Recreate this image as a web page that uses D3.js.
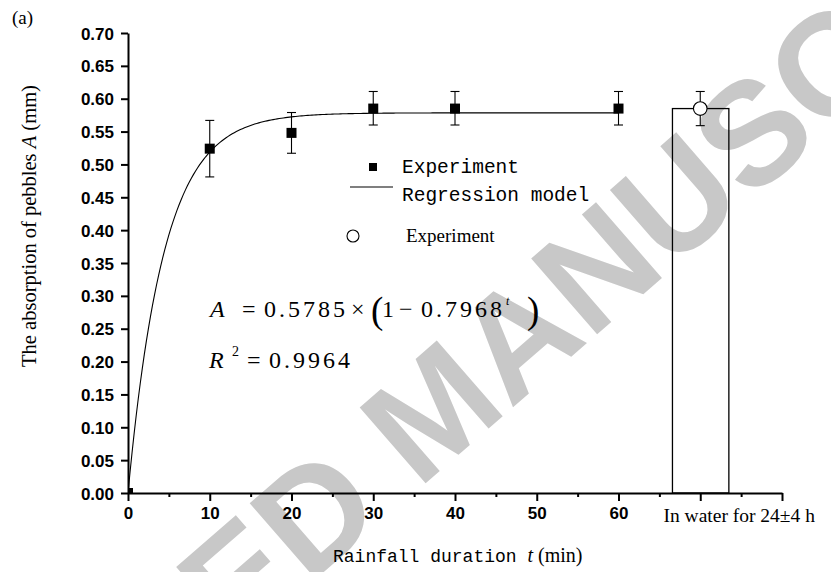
<!DOCTYPE html>
<html>
<head>
<meta charset="utf-8">
<script src="https://cdn.jsdelivr.net/npm/d3@7"></script>
<style>
  body { margin: 0; background: #fff; }
  svg { display: block; }
</style>
</head>
<body>
<script>
// data
const tExp = [0, 10, 20, 30, 40, 60];
const aExp = [0, 0.524, 0.548, 0.585, 0.585, 0.585];
const errLow = [null, 0.481, 0.517, 0.560, 0.560, 0.560];
const errHigh = [null, 0.567, 0.579, 0.611, 0.611, 0.611];

// soaked in water for 24±4 h
const waterT = [70];
const waterA = [0.585];
const waterLow = [0.559];
const waterHigh = [0.611];

// regression model A = a * (1 - b^t)
const modelA = 0.5785;
const modelB = 0.7968;
const modelT = d3.range(0, 60.25, 0.25);

const xTicks = [0, 10, 20, 30, 40, 50, 60, 70, 80];
const xMinor = [5, 15, 25, 35, 45, 55, 65, 75];
const yTicks = d3.range(0, 0.7001, 0.05);

const width = 831, height = 572;

const svg = d3.select("body").append("svg")
  .attr("width", width)
  .attr("height", height);

const x = d3.scaleLinear().domain([0, 80]).range([128, 782]);
const y = d3.scaleLinear().domain([0, 0.7]).range([493, 33]);

// watermark
svg.append("text")
  .attr("transform", "translate(442,418) rotate(-41)")
  .attr("text-anchor", "middle")
  .attr("dominant-baseline", "middle")
  .style("font-family", "Liberation Sans, Arial, sans-serif")
  .style("font-weight", "bold")
  .style("font-size", "146px")
  .style("fill", "#c8c8c8")
  .text("ACCEPTED MANUSCRIPT");

svg.append("clipPath").attr("id", "plot")
  .append("rect")
  .attr("x", x(0)).attr("y", y(0.7))
  .attr("width", x(80) - x(0)).attr("height", y(0) - y(0.7));

// bar for the soaking test
svg.selectAll(".bar")
  .data(waterT)
  .enter().append("rect")
  .attr("x", d => x(d - 3.4))
  .attr("y", (d, i) => y(waterA[i]))
  .attr("width", x(6.9) - x(0))
  .attr("height", (d, i) => y(0) - y(waterA[i]))
  .style("fill", "none")
  .style("stroke", "#000")
  .style("stroke-width", 1.3);

// axes
const yAxis = svg.append("g")
  .attr("transform", `translate(${x(0)},0)`)
  .call(d3.axisLeft(y).tickValues(yTicks).tickSize(7).tickSizeOuter(0)
    .tickFormat(d3.format(".2f")));

const xAxis = svg.append("g")
  .attr("transform", `translate(0,${y(0)})`)
  .call(d3.axisBottom(x).tickValues(xTicks).tickSize(8).tickSizeOuter(0)
    .tickFormat(d => d <= 60 ? d : ""));

const xAxisMinor = svg.append("g")
  .attr("transform", `translate(0,${y(0)})`)
  .call(d3.axisBottom(x).tickValues(xMinor).tickSize(4).tickFormat(""));
xAxisMinor.select(".domain").remove();

[yAxis, xAxis, xAxisMinor].forEach(g => {
  g.selectAll(".domain, line").style("stroke", "#000").style("stroke-width", 2);
  g.selectAll("text")
    .style("font-family", "Liberation Sans, Arial, sans-serif")
    .style("font-weight", "bold")
    .style("font-size", "17px")
    .style("fill", "#000");
});
yAxis.selectAll("text").attr("x", -14).attr("dy", "0.36em");
xAxis.selectAll("text").attr("y", 14);

// regression curve
const line = d3.line()
  .x(d => x(d))
  .y(d => y(modelA * (1 - Math.pow(modelB, d))));

svg.append("path")
  .datum(modelT)
  .attr("d", line)
  .attr("clip-path", "url(#plot)")
  .style("fill", "none")
  .style("stroke", "#000")
  .style("stroke-width", 1.1);

// error bars
function errorBars(ts, lo, hi) {
  const idx = d3.range(ts.length).filter(i => lo[i] != null);
  const g = svg.append("g").style("stroke", "#000").style("stroke-width", 1.1);
  g.selectAll(".v").data(idx).enter().append("line")
    .attr("x1", i => x(ts[i])).attr("x2", i => x(ts[i]))
    .attr("y1", i => y(lo[i])).attr("y2", i => y(hi[i]));
  g.selectAll(".top").data(idx).enter().append("line")
    .attr("x1", i => x(ts[i]) - 4.5).attr("x2", i => x(ts[i]) + 4.5)
    .attr("y1", i => y(hi[i])).attr("y2", i => y(hi[i]));
  g.selectAll(".bot").data(idx).enter().append("line")
    .attr("x1", i => x(ts[i]) - 4.5).attr("x2", i => x(ts[i]) + 4.5)
    .attr("y1", i => y(lo[i])).attr("y2", i => y(lo[i]));
}
errorBars(tExp, errLow, errHigh);
errorBars(waterT, waterLow, waterHigh);

// experiment squares
svg.append("g").attr("clip-path", "url(#plot)")
  .selectAll("rect")
  .data(tExp)
  .enter().append("rect")
  .attr("x", d => x(d) - 5)
  .attr("y", (d, i) => y(aExp[i]) - 5)
  .attr("width", 10)
  .attr("height", 10)
  .style("fill", "#000");

// water test circle
svg.selectAll(".wc")
  .data(waterT)
  .enter().append("circle")
  .attr("cx", d => x(d))
  .attr("cy", (d, i) => y(waterA[i]))
  .attr("r", 6.8)
  .style("fill", "#fff")
  .style("stroke", "#000")
  .style("stroke-width", 1.1);

// legend
const mono = "Liberation Mono, DejaVu Sans Mono, monospace";
const serif = "Liberation Serif, Times New Roman, serif";

svg.append("rect").attr("x", 369).attr("y", 163).attr("width", 8).attr("height", 8)
  .style("fill", "#000");
svg.append("text").attr("x", 402).attr("y", 173)
  .style("font-family", mono).style("font-size", "19.5px").text("Experiment");
svg.append("line").attr("x1", 350).attr("x2", 393).attr("y1", 187).attr("y2", 187)
  .style("stroke", "#000").style("stroke-width", 1.1);
svg.append("text").attr("x", 402).attr("y", 201)
  .style("font-family", mono).style("font-size", "19.5px").text("Regression model");
svg.append("circle").attr("cx", 353).attr("cy", 236).attr("r", 6)
  .style("fill", "#fff").style("stroke", "#000").style("stroke-width", 1.1);
svg.append("text").attr("x", 406).attr("y", 242)
  .style("font-family", serif).style("font-size", "19px").text("Experiment");

// equation, set piece by piece like the equation editor does
function eqText(xp, yp, str, opts = {}) {
  svg.append("text").attr("x", xp).attr("y", yp)
    .style("font-family", serif)
    .style("font-size", (opts.size || 24) + "px")
    .style("font-style", opts.italic ? "italic" : "normal")
    .style("letter-spacing", (opts.ls || 0) + "px")
    .text(str);
}
eqText(210, 317, "A", { italic: true });
eqText(242, 317, "=");
eqText(264, 317, "0.5785", { ls: 3 });
eqText(351, 317, "×");
eqText(371, 323, "(", { size: 37 });
eqText(382, 317, "1");
eqText(399, 317, "−");
eqText(421, 317, "0.7968", { ls: 3 });
eqText(506, 305, "t", { italic: true, size: 12 });
eqText(527, 323, ")", { size: 37 });

eqText(209, 368, "R", { italic: true });
eqText(232, 356, "2", { size: 14 });
eqText(247, 368, "=");
eqText(269, 368, "0.9964", { ls: 3 });

// axis titles
const xt = svg.append("text").attr("x", 333).attr("y", 562)
  .attr("xml:space", "preserve");
xt.append("tspan").style("font-family", mono).style("font-size", "18px")
  .text("Rainfall duration ");
xt.append("tspan").style("font-family", serif).style("font-style", "italic")
  .style("font-size", "20px").text("t");
xt.append("tspan").style("font-family", serif).style("font-size", "20px").text(" (min)");

svg.append("text").attr("x", x(65.5)).attr("y", 522)
  .style("font-family", serif).style("font-size", "19.5px")
  .text("In water for 24±4 h");

const yt = svg.append("text")
  .attr("transform", "translate(36,226) rotate(-90)")
  .attr("text-anchor", "middle")
  .style("font-family", serif).style("font-size", "20.5px");
yt.append("tspan").text("The absorption of pebbles ");
yt.append("tspan").style("font-style", "italic").text("A");
yt.append("tspan").text(" (mm)");

svg.append("text").attr("x", 12).attr("y", 24)
  .style("font-family", serif).style("font-size", "19px").text("(a)");
</script>
</body>
</html>
